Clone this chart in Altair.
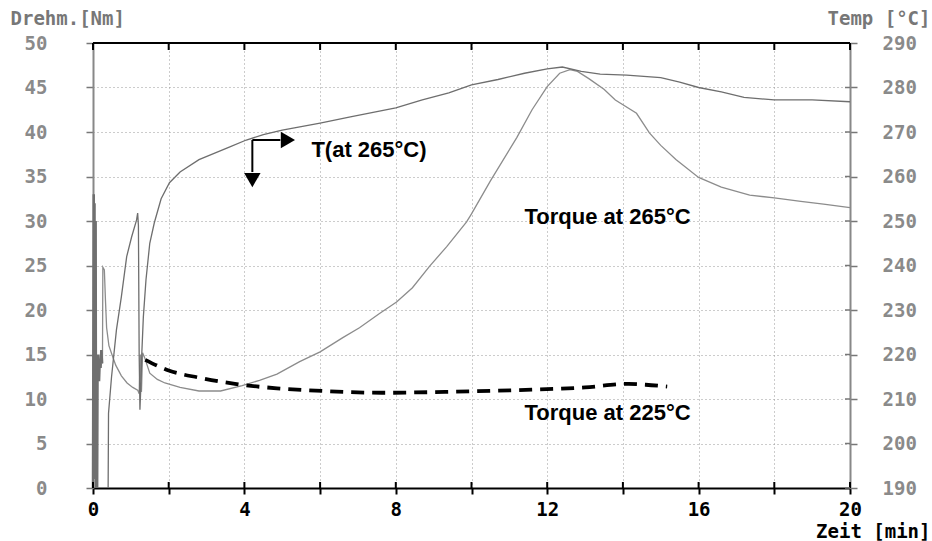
import altair as alt
import pandas as pd

# ---------------- data ----------------
# Temperature curve (right axis, °C)
temp_time = [0.40, 0.41, 0.49, 0.62, 0.75, 0.89, 1.02, 1.15, 1.18, 1.20, 1.22, 1.24, 1.26, 1.29,
             1.33, 1.40, 1.50, 1.62, 1.80, 2.02, 2.3, 2.8, 3.2, 3.6, 4.05, 4.5, 5.0, 5.5, 6.0,
             6.8, 7.4, 8.0, 8.7, 9.4, 10.0, 10.7, 11.4, 12.0, 12.4, 12.9, 13.4, 14.1, 15.0,
             15.5, 16.0, 16.6, 17.2, 18.0, 19.0, 20.0]
temp_c = [190, 206.8, 215, 225.6, 233, 242, 246.4, 250.2, 251.8, 249, 220, 207.6, 212, 220.4,
          228.4, 236.8, 245, 249.6, 255, 258.6, 261, 263.8, 265.2, 266.6, 268.2, 269.4, 270.4,
          271.2, 272, 273.4, 274.4, 275.4, 277.2, 278.8, 280.6, 281.8, 283.2, 284.2, 284.6,
          283.6, 283, 282.8, 282.2, 281.2, 280, 279, 277.8, 277.2, 277.2, 276.8]

# Torque at 265 °C (left axis, Nm)
t265_time = [0.25, 0.26, 0.30, 0.33, 0.36, 0.42, 0.50, 0.60, 0.75, 0.90, 1.05, 1.18, 1.22,
             1.25, 1.28, 1.31, 1.36, 1.5, 1.7, 1.9, 2.3, 2.8, 3.37, 3.94, 4.4, 4.86, 5.46,
             6.0, 6.6, 7.04, 7.57, 8.02, 8.44, 8.89, 9.34, 9.87, 10.0, 10.5, 11.2, 11.6,
             12.0, 12.33, 12.6, 12.8, 13.1, 13.5, 13.8, 14.36, 14.7, 15.0, 15.4, 16.0, 16.6,
             17.35, 18.0, 18.7, 19.3, 20.0]
t265_nm = [14.0, 24.8, 24.5, 21.0, 18.0, 16.0, 15.0, 13.8, 12.6, 11.8, 11.3, 11.0, 10.6,
           15.0, 10.8, 15.2, 14.7, 12.9, 12.2, 11.8, 11.3, 10.9, 10.9, 11.5, 12.1, 12.8, 14.2,
           15.3, 16.9, 18.0, 19.6, 20.9, 22.5, 24.9, 27.1, 29.9, 30.8, 34.5, 39.4, 42.5,
           45.1, 46.6, 47.0, 46.8, 46.0, 44.8, 43.6, 42.1, 39.9, 38.5, 36.9, 34.9, 33.8,
           32.9, 32.6, 32.2, 31.9, 31.5]

# Start-up oscillation near t = 0
spike_time = [0.00, 0.02, 0.03, 0.04, 0.05, 0.06, 0.07, 0.08, 0.09, 0.10, 0.11, 0.12, 0.14,
              0.16, 0.18, 0.20, 0.22, 0.24]
spike_nm = [0.0, 33.0, 3.0, 32.0, 1.0, 12.0, 30.0, 0.0, 14.0, 8.0, 0.0, 13.0, 15.0, 12.0,
            14.5, 13.5, 15.5, 14.0]

# Torque at 225 °C (dashed)
t225_time = [1.38, 2.0, 2.8, 3.75, 4.86, 6.07, 7.65, 9.3, 11.2, 13.0, 14.15, 14.6, 15.17]
t225_nm = [14.4, 13.2, 12.4, 11.7, 11.2, 10.9, 10.7, 10.8, 11.0, 11.3, 11.7, 11.6, 11.4]

# Axis ticks
x_ticks = [0, 2, 4, 6, 8, 10, 12, 14, 16, 18, 20]
y_ticks = [0, 5, 10, 15, 20, 25, 30, 35, 40, 45, 50]
temp_ticks = [190, 200, 210, 220, 230, 240, 250, 260, 270, 280, 290]

# Annotations
label_text = ["T(at 265°C)", "Torque at 265°C", "Torque at 225°C"]
label_x = [5.77, 11.4, 11.4]
label_y = [37.2, 29.7, 7.6]
arrow_origin = (4.21, 39.1)
arrow_h_end = 4.95
arrow_v_end = 35.5
head_right = (5.15, 39.1)
head_down = (4.21, 34.6)

# ---------------- chart ----------------
W, H = 757, 445
MONO = "DejaVu Sans Mono"
SANS = "Liberation Sans"
GREY = "#8a8a8a"
FS = 19

xs = alt.Scale(domain=[0, 20], nice=False, zero=False)
ys = alt.Scale(domain=[0, 50], nice=False, zero=False)
ts = alt.Scale(domain=[190, 290], nice=False, zero=False)

x_axis = alt.Axis(values=x_ticks, labelExpr="datum.value % 4 == 0 ? datum.label : ''",
                  grid=True, gridDash=[1, 3], gridColor="#999", gridWidth=1,
                  tickSize=6, tickColor="black", tickWidth=2,
                  domainColor="black", domainWidth=2,
                  labelFont=MONO, labelFontSize=FS, labelFontWeight="bold", labelColor="black",
                  labelPadding=6, labelFlush=False,
                  title="Zeit [min]", titleFont=MONO, titleFontSize=FS, titleFontWeight="bold",
                  titleColor="black", titleAngle=0, titleAlign="right", titleBaseline="middle",
                  titleX=837, titleY=43)

y_axis = alt.Axis(values=y_ticks, grid=True, gridDash=[1, 3], gridColor="#999", gridWidth=1,
                  tickSize=7, tickColor="#777", tickWidth=1.5,
                  domainColor="#888", domainWidth=2,
                  labelFont=MONO, labelFontSize=FS, labelFontWeight="bold", labelColor=GREY,
                  labelPadding=39, labelFlush=False,
                  title="Drehm.[Nm]", titleFont=MONO, titleFontSize=FS, titleFontWeight="bold",
                  titleColor="#777", titleAngle=0, titleAlign="left", titleBaseline="middle",
                  titleX=-83, titleY=-25)

t_axis = alt.Axis(values=temp_ticks, grid=False, orient="right",
                  tickSize=7, tickColor="#777", tickWidth=1.5,
                  domainColor="#888", domainWidth=2,
                  labelFont=MONO, labelFontSize=FS, labelFontWeight="bold", labelColor=GREY,
                  labelPadding=25, labelFlush=False,
                  title="Temp [°C]", titleFont=MONO, titleFontSize=FS, titleFontWeight="bold",
                  titleColor="#777", titleAngle=0, titleAlign="right", titleBaseline="middle",
                  titleX=80, titleY=-25)

X = lambda f="t:Q": alt.X(f, scale=xs, axis=x_axis)
Y = lambda f="v:Q": alt.Y(f, scale=ys, axis=y_axis)

df_t265 = pd.DataFrame({"t": t265_time, "v": t265_nm})
df_spike = pd.DataFrame({"t": spike_time, "v": spike_nm})
df_t225 = pd.DataFrame({"t": t225_time, "v": t225_nm})
df_temp = pd.DataFrame({"t": temp_time, "v": temp_c})
df_lab = pd.DataFrame({"txt": label_text, "t": label_x, "v": label_y})
df_xt = pd.DataFrame({"t": x_ticks})
df_yt = pd.DataFrame({"v": y_ticks})

torque = alt.Chart(df_t265).mark_line(color="#8c8c8c", strokeWidth=1.3).encode(x=X(), y=Y())
spikes = alt.Chart(df_spike).mark_line(color="#6f6f6f", strokeWidth=2.5).encode(x=X(), y=Y())
dashed = alt.Chart(df_t225).mark_line(color="black", strokeWidth=3.8, strokeDash=[13, 8],
                                       interpolate="monotone").encode(x=X(), y=Y())
texts = alt.Chart(df_lab).mark_text(font=SANS, fontSize=22, fontWeight="bold", color="black",
                                    align="left", baseline="alphabetic").encode(
    x=X(), y=Y(), text="txt:N")
arrow_h = alt.Chart(pd.DataFrame({"t": [arrow_origin[0]], "t2": [arrow_h_end],
                                  "v": [arrow_origin[1]]})).mark_rule(
    color="black", strokeWidth=2).encode(x=X(), x2="t2:Q", y=Y())
arrow_v = alt.Chart(pd.DataFrame({"t": [arrow_origin[0]], "v": [arrow_origin[1]],
                                  "v2": [arrow_v_end]})).mark_rule(
    color="black", strokeWidth=2).encode(x=X(), y=Y(), y2="v2:Q")
heads = alt.Chart(pd.DataFrame({"t": [head_right[0], head_down[0]],
                                "v": [head_right[1], head_down[1]],
                                "shape": ["triangle-right", "triangle-down"]})).mark_point(
    filled=True, color="black", opacity=1, size=270).encode(
    x=X(), y=Y(), shape=alt.Shape("shape:N", scale=None))
bottom_ticks = alt.Chart(df_xt).mark_rule(color="black", strokeWidth=2).encode(
    x=X(), y=alt.value(H), y2=alt.value(H - 6))
top_ticks = alt.Chart(df_xt).mark_rule(color="black", strokeWidth=2).encode(
    x=X(), y=alt.value(0), y2=alt.value(7))
right_ticks = alt.Chart(df_yt).mark_rule(color="#777", strokeWidth=1.5).encode(
    y=Y(), x=alt.value(W - 5), x2=alt.value(W))
top_line = alt.Chart(df_xt.head(1)).mark_rule(color="black", strokeWidth=2).encode(
    x=alt.value(0), x2=alt.value(W), y=alt.value(0))

left = alt.layer(torque, spikes, dashed, texts, arrow_h, arrow_v, heads,
                 bottom_ticks, top_ticks, right_ticks, top_line)

temp = alt.Chart(df_temp).mark_line(color="#6e6e6e", strokeWidth=1.3).encode(
    x=X(),
    y=alt.Y("v:Q", scale=ts, axis=t_axis),
)

chart = alt.layer(left, temp).resolve_scale(y="independent").properties(
    width=W, height=H,
    autosize=alt.AutoSizeParams(type="none"),
    padding={"left": 93, "top": 43, "right": 82, "bottom": 53},
    background="white",
).configure_view(stroke=None)

chart.save("out.html", embed_options={"renderer": "svg", "actions": False})
